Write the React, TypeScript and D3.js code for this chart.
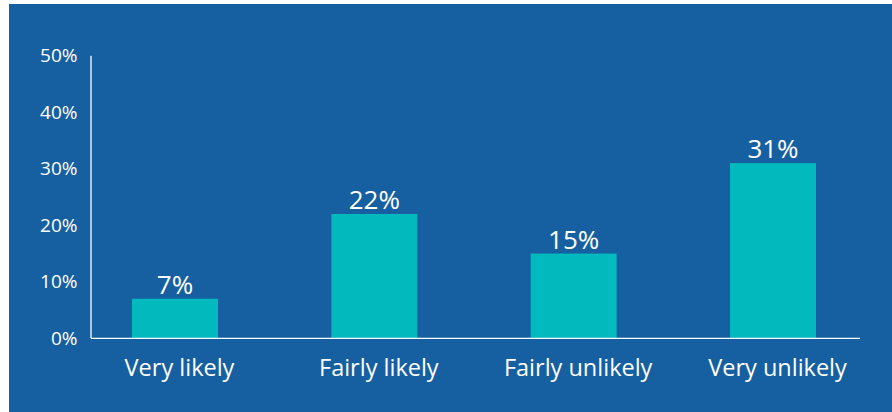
import React from "react";
import * as d3 from "d3";

const categories = ["Very likely", "Fairly likely", "Fairly unlikely", "Very unlikely"];
const values = [7, 22, 15, 31];
const yTicks = [0, 10, 20, 30, 40, 50];

const W = 892;
const H = 412;
const BG = "#1660a2";
const BAR = "#02b9bd";
const FONT = "'Open Sans', 'Noto Sans', sans-serif";

export default function App() {
  const y = d3.scaleLinear().domain([0, 50]).range([338.3, 55.8]);
  const x = d3.scalePoint<string>().domain(categories).range([175, 773]);
  const barW = 86;
  const axisX = 91;
  const axisRight = 860;

  return (
    <svg
      width={W}
      height={H}
      style={{ position: "fixed", left: 0, top: 0, display: "block" }}
    >
      <rect x={0} y={0} width={W} height={H} fill="#ffffff" />
      <rect x={9} y={4} width={W - 9} height={H - 4} fill={BG} />
      {yTicks.map((t) => (
        <text
          key={t}
          x={77.5}
          y={y(t)}
          dy="0.35em"
          textAnchor="end"
          fill="#ffffff"
          fontFamily={FONT}
          fontSize={19}
        >
          {t}%
        </text>
      ))}
      {categories.map((c, i) => {
        const cx = x(c) as number;
        return (
          <g key={c}>
            <rect
              x={cx - barW / 2}
              y={y(values[i])}
              width={barW}
              height={y(0) - y(values[i])}
              fill={BAR}
            />
            <text
              x={cx}
              y={y(values[i]) - 5}
              textAnchor="middle"
              fill="#ffffff"
              fontFamily={FONT}
              fontSize={26}
            >
              {values[i]}%
            </text>
            <text
              x={cx + 4.5}
              y={375.5}
              textAnchor="middle"
              fill="#ffffff"
              fontFamily={FONT}
              fontSize={23.5}
            >
              {c}
            </text>
          </g>
        );
      })}
      <line x1={axisX} x2={axisX} y1={y(50)} y2={y(0)} stroke="#ffffff" strokeWidth={1.3} />
      <line x1={axisX} x2={axisRight} y1={y(0)} y2={y(0)} stroke="#ffffff" strokeWidth={1.3} />
    </svg>
  );
}
